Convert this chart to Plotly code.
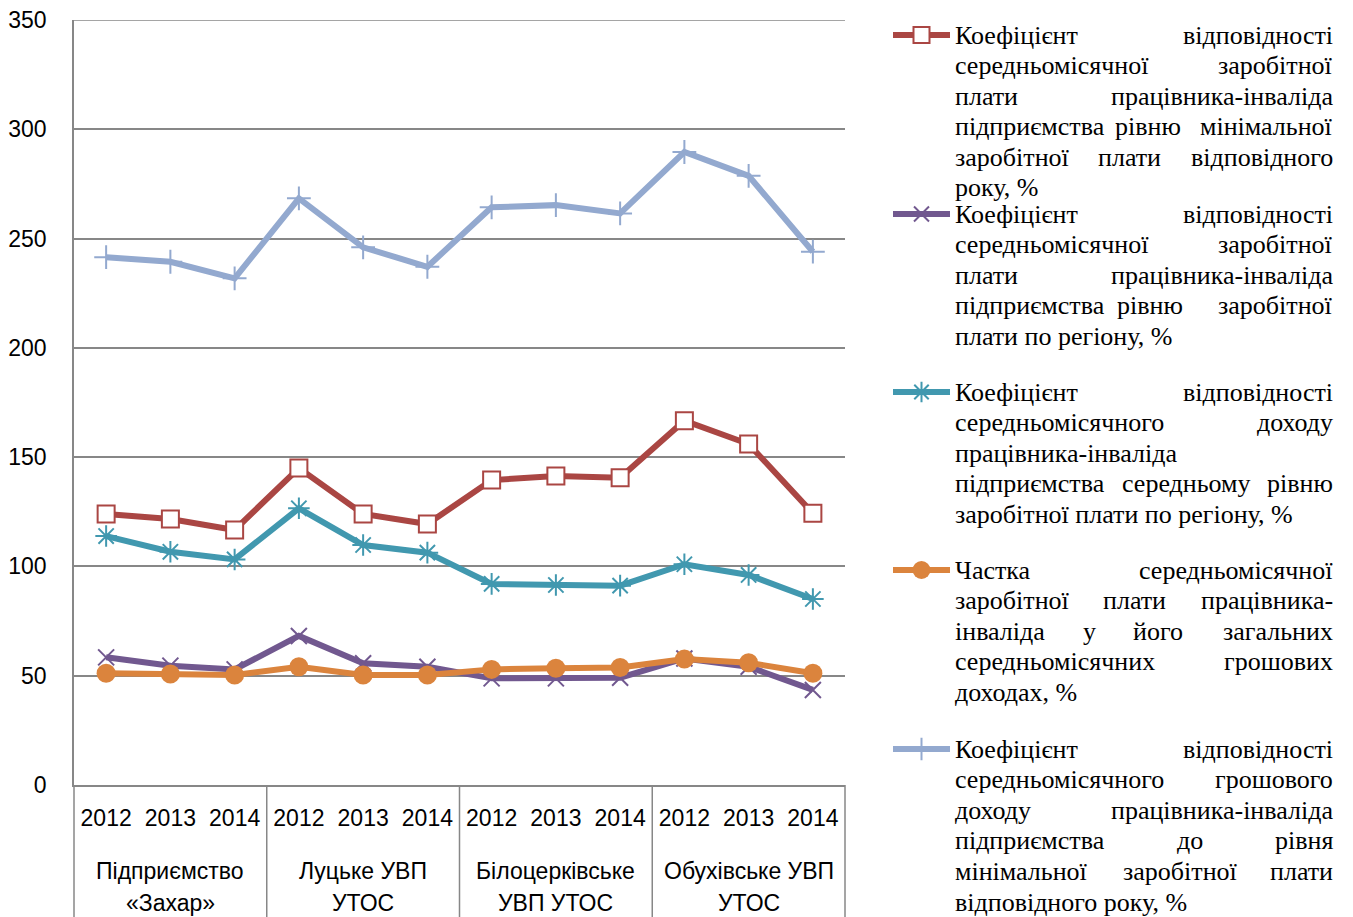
import plotly.graph_objects as go

# ---------------- data ----------------
groups = ["Підприємство<br>«Захар»", "Луцьке УВП<br>УТОС",
          "Білоцерківське<br>УВП УТОС", "Обухівське УВП<br>УТОС"]
years = ["2012", "2013", "2014"]

s_min_wage = [124.0, 121.7, 116.7, 145.0, 124.0, 119.4, 139.5, 141.4, 140.6, 166.7, 156.0, 124.3]
s_region_wage = [58.4, 54.6, 52.9, 68.2, 55.7, 54.1, 48.8, 48.8, 49.1, 57.9, 54.1, 43.5]
s_income_region = [113.9, 106.7, 103.2, 126.6, 109.8, 106.3, 92.0, 91.5, 91.2, 101.0, 96.1, 85.1]
s_share = [51.1, 50.8, 50.3, 54.1, 50.3, 50.3, 52.9, 53.4, 53.8, 57.6, 55.9, 51.1]
s_cash_min = [241.5, 239.4, 231.8, 268.4, 246.0, 237.1, 264.3, 265.3, 261.5, 289.6, 278.7, 244.0]

y_ticks = [0, 50, 100, 150, 200, 250, 300, 350]

legend_lines = [
    ["Коефіцієнт відповідності", "середньомісячної заробітної", "плати працівника-інваліда",
     "підприємства рівню мінімальної", "заробітної плати відповідного", "року, %"],
    ["Коефіцієнт відповідності", "середньомісячної заробітної", "плати працівника-інваліда",
     "підприємства рівню заробітної", "плати по регіону, %"],
    ["Коефіцієнт відповідності", "середньомісячного доходу", "працівника-інваліда",
     "підприємства середньому рівню", "заробітної плати по регіону, %"],
    ["Частка середньомісячної", "заробітної плати працівника-", "інваліда у його загальних",
     "середньомісячних грошових", "доходах, %"],
    ["Коефіцієнт відповідності", "середньомісячного грошового", "доходу працівника-інваліда",
     "підприємства до рівня", "мінімальної заробітної плати", "відповідного року, %"],
]
legend_names = [" ".join(l) for l in legend_lines]

# ---------------- geometry / styles ----------------
PAGE_W, PAGE_H = 1353, 917
OFF = 8                                   # default body margin of the page
W, H = PAGE_W - OFF, PAGE_H - OFF         # figure size
PL, PR, PT, PB = 74, 845, 20, 785         # plot area in page px
GRID = "#878787"
AX_FONT = "Liberation Sans, Arial, sans-serif"
LEG_FONT = "Liberation Serif, Times New Roman, serif"

styles = [
    dict(color="#AA4643", symbol="square", size=17, fill="white", lw=2),
    dict(color="#71588F", symbol="x-thin", size=16, fill="#71588F", lw=2),
    dict(color="#4198AF", symbol="asterisk", size=18, fill="#4198AF", lw=2),
    dict(color="#DB843D", symbol="circle", size=19, fill="#DB843D", lw=0),
    dict(color="#93A9CF", symbol="cross-thin", size=17, fill="#93A9CF", lw=2),
]
series = [s_min_wage, s_region_wage, s_income_region, s_share, s_cash_min]

n = len(groups) * len(years)
xs = list(range(n))
tick_text = [y for _ in groups for y in years]


def px2paper_x(px):
    return (px - OFF) / W


def px2paper_y(py):
    return 1 - (py - OFF) / H


def idx2paper_x(i):
    return px2paper_x(PL + (i + 0.5) / n * (PR - PL))


fig = go.Figure()

for vals, st, name in zip(series, styles, legend_names):
    fig.add_trace(go.Scatter(
        x=xs, y=vals, mode="lines+markers", name=name, showlegend=False,
        line=dict(color=st["color"], width=6),
        marker=dict(symbol=st["symbol"], size=st["size"], color=st["fill"],
                    line=dict(color=st["color"], width=st["lw"])),
        xaxis="x", yaxis="y",
    ))

# ---------------- custom legend (justified text) ----------------
LX0, LX1 = 953, 1335
entry_y = [35, 214, 392, 570, 749]
line_gap = 30.6
mid_pos = {  # centres of inner words in justified lines (page px)
    (0, 3): [1148], (0, 4): [1129], (1, 3): [1150], (2, 3): [1186],
    (3, 1): [1134], (3, 2): [1089, 1158], (4, 3): [1190], (4, 4): [1180],
}
leg_font = dict(family=LEG_FONT, size=26, color="black")
annotations = []


def add_text(px, py, text, anchor, font):
    annotations.append(dict(x=px2paper_x(px), y=px2paper_y(py), xref="paper", yref="paper",
                            text=text, showarrow=False, xanchor=anchor, yanchor="middle",
                            font=font))


for e, lines in enumerate(legend_lines):
    for li, text in enumerate(lines):
        yc = entry_y[e] + li * line_gap
        words = text.split(" ")
        last = li == len(lines) - 1
        if last or len(words) == 1:
            add_text(LX0, yc, text, "left", leg_font)
            continue
        add_text(LX0, yc, words[0], "left", leg_font)
        add_text(LX1, yc, words[-1], "right", leg_font)
        for w, cx in zip(words[1:-1], mid_pos.get((e, li), [])):
            add_text(cx, yc, w, "center", leg_font)
    # legend key
    st = styles[e]
    yk = entry_y[e]
    fig.add_trace(go.Scatter(x=[893, 950], y=[yk, yk], mode="lines", showlegend=False,
                             line=dict(color=st["color"], width=6), xaxis="x2", yaxis="y2",
                             hoverinfo="skip"))
    fig.add_trace(go.Scatter(x=[921.5], y=[yk], mode="markers", showlegend=False,
                             marker=dict(symbol=st["symbol"], size=st["size"] - 1, color=st["fill"],
                                         line=dict(color=st["color"], width=st["lw"])),
                             xaxis="x2", yaxis="y2", hoverinfo="skip"))

# ---------------- category labels & dividers ----------------
ax_font = dict(family=AX_FONT, size=23, color="black")
for gi, g in enumerate(groups):
    for li, part in enumerate(g.split("<br>")):
        annotations.append(dict(x=idx2paper_x(gi * 3 + 1), y=px2paper_y(871 + li * 32),
                                xref="paper", yref="paper", text=part, showarrow=False,
                                xanchor="center", yanchor="middle", font=ax_font))

shapes = []
for b in range(len(groups) + 1):
    xp = px2paper_x(PL + b * 3 / n * (PR - PL))
    shapes.append(dict(type="line", xref="paper", yref="paper", x0=xp, x1=xp,
                       y0=px2paper_y(PB), y1=px2paper_y(PAGE_H + 10),
                       line=dict(color=GRID, width=1.5)))
# top gridline (plotly omits the grid line on the range edge)
shapes.append(dict(type="line", xref="paper", yref="y", x0=px2paper_x(PL), x1=px2paper_x(PR),
                   y0=y_ticks[-1], y1=y_ticks[-1], line=dict(color=GRID, width=1.5), layer="below"))

fig.update_layout(
    width=W, height=H,
    margin=dict(l=0, r=0, t=0, b=0, autoexpand=False),
    paper_bgcolor="white", plot_bgcolor="rgba(0,0,0,0)",
    showlegend=False,
    xaxis=dict(domain=[px2paper_x(PL), px2paper_x(PR)], range=[-0.5, n - 0.5],
               tickmode="array", tickvals=xs, ticktext=tick_text, ticks="",
               showgrid=False, zeroline=False, showline=True, linecolor=GRID, linewidth=1.5,
               tickfont=ax_font, ticklabelstandoff=12, fixedrange=True, automargin=False,
               ticklabeloverflow="allow"),
    yaxis=dict(domain=[px2paper_y(PB), px2paper_y(PT)], range=[0, 350],
               tickmode="array", tickvals=y_ticks, ticks="",
               showgrid=True, gridcolor=GRID, gridwidth=1.5, zeroline=False,
               showline=True, linecolor=GRID, linewidth=1.5,
               tickfont=ax_font, ticklabelstandoff=21, fixedrange=True, automargin=False,
               ticklabeloverflow="allow"),
    xaxis2=dict(domain=[0, 1], range=[OFF, OFF + W], visible=False, anchor="y2",
                fixedrange=True, automargin=False),
    yaxis2=dict(domain=[0, 1], range=[OFF + H, OFF], visible=False, anchor="x2",
                fixedrange=True, automargin=False),
    annotations=annotations,
    shapes=shapes,
)

fig.write_html("out.html")
